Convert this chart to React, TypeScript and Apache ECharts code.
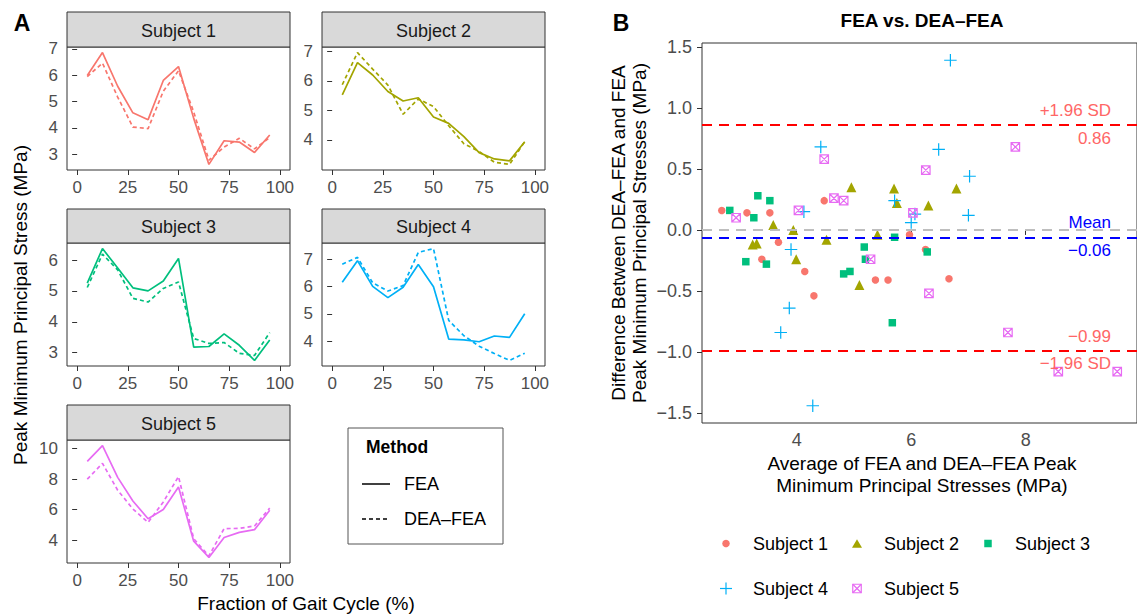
import React, { useEffect, useRef } from "react";
import * as echarts from "echarts";

const FONT = "Liberation Sans, Arial, Helvetica, sans-serif";

// Gait cycle fractions (%)
const timePoints = [5, 12.5, 20, 27.5, 35, 42.5, 50, 57.5, 65, 72.5, 80, 87.5, 95];
const gaitTicks = [0, 25, 50, 75, 100];
const subjects = ["Subject 1", "Subject 2", "Subject 3", "Subject 4", "Subject 5"];
const colors = ["#F8766D", "#A3A500", "#00BF7D", "#00B0F6", "#E76BF3"];

// Peak minimum principal stress (MPa)
const fea1 = [5.99, 6.86, 5.58, 4.57, 4.31, 5.8, 6.33, 4.36, 2.61, 3.51, 3.46, 3.06, 3.73];
const dea1 = [5.95, 6.46, 5.17, 4.03, 3.97, 5.39, 6.17, 4.6, 2.77, 3.27, 3.6, 3.2, 3.63];
const fea2 = [5.53, 6.62, 6.2, 5.64, 5.32, 5.43, 4.78, 4.56, 4.11, 3.57, 3.355, 3.29, 3.94];
const dea2 = [5.87, 6.96, 6.4, 5.86, 4.87, 5.39, 5.13, 4.48, 3.87, 3.61, 3.245, 3.17, 3.94];
const fea3 = [5.25, 6.37, 5.74, 5.1, 5.0, 5.32, 6.05, 3.18, 3.2, 3.61, 3.24, 2.75, 3.41];
const dea3 = [5.11, 6.19, 5.68, 4.76, 4.64, 5.08, 5.29, 3.46, 3.3, 3.33, 2.98, 2.91, 3.65];
const fea4 = [6.15, 6.94, 6.0, 5.59, 5.97, 6.8, 5.99, 4.08, 4.05, 3.98, 4.19, 4.14, 5.0];
const dea4 = [6.81, 7.06, 6.13, 5.83, 6.03, 7.24, 7.38, 4.76, 4.2, 3.82, 3.55, 3.3, 3.56];
const fea5 = [9.15, 10.18, 8.11, 6.57, 5.41, 6.01, 7.48, 3.95, 2.89, 4.19, 4.52, 4.7, 5.96];
const dea5 = [7.99, 9.02, 7.27, 6.05, 5.17, 6.5, 8.16, 4.11, 2.99, 4.77, 4.78, 4.94, 6.1];

const yTicks1 = [3, 4, 5, 6, 7];
const yTicks2 = [4, 5, 6, 7];
const yTicks3 = [3, 4, 5, 6];
const yTicks4 = [4, 5, 6, 7];
const yTicks5 = [4, 6, 8, 10];

// Bland-Altman summary values
const meanDiff = -0.06;
const upperLoA = 0.86;
const lowerLoA = -0.99;
const baXTicks = [4, 6, 8];
const baYTicks = [-1.5, -1, -0.5, 0, 0.5, 1, 1.5];

const feaAll = [fea1, fea2, fea3, fea4, fea5];
const deaAll = [dea1, dea2, dea3, dea4, dea5];
const yTicksAll = [yTicks1, yTicks2, yTicks3, yTicks4, yTicks5];

const facetPos = [
  { left: 67, top: 47, stripTop: 12 },
  { left: 322, top: 47, stripTop: 12 },
  { left: 67, top: 243, stripTop: 209 },
  { left: 322, top: 243, stripTop: 209 },
  { left: 67, top: 440, stripTop: 405 },
];
const FW = 223;
const FH = 123;

function expandRange(vals: number[]): [number, number] {
  const mn = Math.min(...vals);
  const mx = Math.max(...vals);
  const r = mx - mn;
  return [mn - 0.05 * r, mx + 0.05 * r];
}

const minus = (v: number, d: number) => (v < 0 ? "\u2212" : "") + Math.abs(v).toFixed(d);

const plusPath = "path://M6,0V12M0,6H12";
const crossSqPath = "path://M0,0H10V10H0ZM0,0L10,10M10,0L0,10";

function buildOption() {
  const grids: any[] = [];
  const xAxes: any[] = [];
  const yAxes: any[] = [];
  const series: any[] = [];
  const graphics: any[] = [];

  feaAll.forEach((fea, i) => {
    const dea = deaAll[i];
    const p = facetPos[i];
    grids.push({ left: p.left, top: p.top, width: FW, height: FH, show: true, borderColor: "#333", borderWidth: 1 });
    xAxes.push({
      type: "value", gridIndex: i, min: -5, max: 105,
      axisLine: { show: false }, splitLine: { show: false },
      axisTick: { show: true, length: 5, lineStyle: { color: "#333" }, customValues: gaitTicks },
      axisLabel: { customValues: gaitTicks, fontSize: 17, color: "#4d4d4d", margin: 9, fontFamily: FONT },
    });
    const [lo, hi] = expandRange([...fea, ...dea]);
    yAxes.push({
      type: "value", gridIndex: i, min: lo, max: hi,
      axisLine: { show: false }, splitLine: { show: false },
      axisTick: { show: true, length: 5, lineStyle: { color: "#333" }, customValues: yTicksAll[i] },
      axisLabel: { customValues: yTicksAll[i], fontSize: 17, color: "#4d4d4d", margin: 9, fontFamily: FONT },
    });
    series.push({
      type: "line", name: "FEA", xAxisIndex: i, yAxisIndex: i, silent: true, showSymbol: false,
      data: timePoints.map((t, j) => [t, fea[j]]),
      lineStyle: { color: colors[i], width: 1.7 },
    });
    series.push({
      type: "line", name: "DEA\u2013FEA", xAxisIndex: i, yAxisIndex: i, silent: true, showSymbol: false,
      data: timePoints.map((t, j) => [t, dea[j]]),
      lineStyle: { color: colors[i], width: 1.7, type: [4, 3] },
    });
    graphics.push({
      type: "rect", shape: { x: p.left, y: p.stripTop, width: FW, height: p.top - p.stripTop },
      style: { fill: "#d9d9d9", stroke: "#333", lineWidth: 1 }, z: 10,
    });
    graphics.push({
      type: "text", x: p.left + FW / 2, y: (p.stripTop + p.top) / 2 + 1, z: 11,
      style: { text: subjects[i], fontSize: 18, fontFamily: FONT, fill: "#1a1a1a", align: "center", verticalAlign: "middle", textAlign: "center", textVerticalAlign: "middle" },
    });
  });

  // Bland-Altman panel
  const baPoints = feaAll.map((fea, i) => timePoints.map((_, j) => [(fea[j] + deaAll[i][j]) / 2, deaAll[i][j] - fea[j]]));
  const allAvg = baPoints.flat().map((d) => d[0]);
  const allDiff = baPoints.flat().map((d) => d[1]);
  const [bxLo, bxHi] = expandRange(allAvg);
  const [byLo, byHi] = expandRange(allDiff);
  const B = 5;
  grids.push({ left: 702, top: 43, width: 441, height: 380, show: true, borderColor: "#333", borderWidth: 1 });
  xAxes.push({
    type: "value", gridIndex: B, min: bxLo, max: bxHi,
    axisLine: { show: false }, splitLine: { show: false },
    axisTick: { show: true, length: 5, lineStyle: { color: "#333" }, customValues: baXTicks },
    axisLabel: { customValues: baXTicks, fontSize: 18, color: "#4d4d4d", margin: 8, fontFamily: FONT },
  });
  yAxes.push({
    type: "value", gridIndex: B, min: byLo, max: byHi,
    axisLine: { show: false }, splitLine: { show: false },
    axisTick: { show: true, length: 5, lineStyle: { color: "#333" }, customValues: baYTicks },
    axisLabel: { customValues: baYTicks, fontSize: 18, color: "#4d4d4d", margin: 10, fontFamily: FONT, formatter: (v: number) => minus(v, 1) },
  });

  const lblBase = { show: true, fontSize: 17, fontFamily: FONT };
  const hidden = { color: "rgba(0,0,0,0)", width: 0 };
  series.push({
    type: "scatter", xAxisIndex: B, yAxisIndex: B, data: [], silent: true,
    markLine: {
      silent: true, symbol: ["none", "none"], animation: false,
      data: [
        { yAxis: 0, lineStyle: { color: "#BEBEBE", width: 2, type: [10, 7] }, label: { show: false } },
        { yAxis: upperLoA, lineStyle: { color: "#FF0000", width: 2, type: [10, 7] }, label: { ...lblBase, color: "#FF6666", position: "insideEndTop", distance: [26, 6], formatter: "+1.96 SD" } },
        { yAxis: upperLoA, lineStyle: hidden, label: { ...lblBase, color: "#FF6666", position: "insideEndBottom", distance: [26, 5], formatter: upperLoA.toFixed(2) } },
        { yAxis: meanDiff, lineStyle: { color: "#0000FF", width: 2, type: [10, 7] }, label: { ...lblBase, color: "#0000FF", position: "insideEndTop", distance: [26, 6], formatter: "Mean" } },
        { yAxis: meanDiff, lineStyle: hidden, label: { ...lblBase, color: "#0000FF", position: "insideEndBottom", distance: [26, 5], formatter: minus(meanDiff, 2) } },
        { yAxis: lowerLoA, lineStyle: { color: "#FF0000", width: 2, type: [10, 7] }, label: { ...lblBase, color: "#FF6666", position: "insideEndTop", distance: [26, 6], formatter: minus(lowerLoA, 2) } },
        { yAxis: lowerLoA, lineStyle: hidden, label: { ...lblBase, color: "#FF6666", position: "insideEndBottom", distance: [26, 4], formatter: "\u22121.96 SD" } },
      ],
    },
  });

  const symbols = ["circle", "triangle", "rect", plusPath, crossSqPath];
  const sizes = [7.5, 10, 7.5, 12.5, 8.5];
  baPoints.forEach((pts, i) => {
    const stroked = i >= 3;
    series.push({
      type: "scatter", name: subjects[i], xAxisIndex: B, yAxisIndex: B, silent: true,
      data: pts, symbol: symbols[i], symbolSize: sizes[i],
      itemStyle: stroked
        ? { color: "transparent", borderColor: colors[i], borderWidth: 1.2, opacity: 1 }
        : { color: colors[i], opacity: 1 },
    });
  });

  const txt = (text: string, x: number, y: number, extra: any = {}) => ({
    type: "text", x, y, z: 20, rotation: extra.rotation || 0,
    style: {
      text, fontSize: 19, fontFamily: FONT, fill: "#000",
      align: "center", verticalAlign: "middle", textAlign: "center", textVerticalAlign: "middle",
      ...extra.style,
    },
  });

  // Panel labels and titles
  graphics.push(txt("A", 22, 22.5, { style: { fontSize: 23, fontWeight: "bold" } }));
  graphics.push(txt("B", 621, 22.5, { style: { fontSize: 23, fontWeight: "bold" } }));
  graphics.push(txt("Peak Minimum Principal Stress (MPa)", 20, 305, { rotation: Math.PI / 2 }));
  graphics.push(txt("Fraction of Gait Cycle (%)", 306, 603));
  graphics.push(txt("FEA vs. DEA\u2013FEA", 922, 20, { style: { fontWeight: "bold" } }));
  graphics.push(txt("Difference Between DEA\u2013FEA and FEA\nPeak Minimum Principal Stresses (MPa)", 629, 233, { rotation: Math.PI / 2, style: { lineHeight: 21 } }));
  graphics.push(txt("Average of FEA and DEA\u2013FEA Peak\nMinimum Principal Stresses (MPa)", 922, 474, { style: { lineHeight: 22 } }));

  // Method legend
  graphics.push({ type: "rect", shape: { x: 348, y: 428, width: 155, height: 116 }, style: { fill: "#fff", stroke: "#555", lineWidth: 1 }, z: 15 });
  graphics.push(txt("Method", 366, 447, { style: { fontSize: 17.5, fontWeight: "bold", align: "left", textAlign: "left" } }));
  graphics.push({ type: "line", shape: { x1: 362, y1: 484, x2: 390, y2: 484 }, style: { stroke: "#000", lineWidth: 1.5 }, z: 20 });
  graphics.push(txt("FEA", 404, 484, { style: { fontSize: 18, align: "left", textAlign: "left" } }));
  graphics.push({ type: "line", shape: { x1: 362, y1: 519, x2: 390, y2: 519 }, style: { stroke: "#000", lineWidth: 1.5, lineDash: [4, 3] }, z: 20 });
  graphics.push(txt("DEA\u2013FEA", 404, 519, { style: { fontSize: 18, align: "left", textAlign: "left" } }));

  // Subject legend (panel B)
  const legX = [726, 857, 988, 726, 857];
  const legY = [543.5, 543.5, 543.5, 588.5, 588.5];
  subjects.forEach((s, i) => {
    const cx = legX[i];
    const cy = legY[i];
    const c = colors[i];
    if (i === 0) graphics.push({ type: "circle", shape: { cx, cy, r: 3.75 }, style: { fill: c }, z: 20 });
    if (i === 1) graphics.push({ type: "polygon", shape: { points: [[cx - 5, cy + 4.3], [cx + 5, cy + 4.3], [cx, cy - 4.3]] }, style: { fill: c }, z: 20 });
    if (i === 2) graphics.push({ type: "rect", shape: { x: cx - 3.75, y: cy - 3.75, width: 7.5, height: 7.5 }, style: { fill: c }, z: 20 });
    if (i === 3) {
      graphics.push({ type: "line", shape: { x1: cx - 6, y1: cy, x2: cx + 6, y2: cy }, style: { stroke: c, lineWidth: 1.2 }, z: 20 });
      graphics.push({ type: "line", shape: { x1: cx, y1: cy - 6, x2: cx, y2: cy + 6 }, style: { stroke: c, lineWidth: 1.2 }, z: 20 });
    }
    if (i === 4) {
      graphics.push({ type: "rect", shape: { x: cx - 4.25, y: cy - 4.25, width: 8.5, height: 8.5 }, style: { fill: "none", stroke: c, lineWidth: 1.2 }, z: 20 });
      graphics.push({ type: "line", shape: { x1: cx - 4.25, y1: cy - 4.25, x2: cx + 4.25, y2: cy + 4.25 }, style: { stroke: c, lineWidth: 1.2 }, z: 20 });
      graphics.push({ type: "line", shape: { x1: cx + 4.25, y1: cy - 4.25, x2: cx - 4.25, y2: cy + 4.25 }, style: { stroke: c, lineWidth: 1.2 }, z: 20 });
    }
    graphics.push(txt(s, cx + 27, cy, { style: { fontSize: 18, align: "left", textAlign: "left" } }));
  });

  return {
    animation: false,
    backgroundColor: "#ffffff",
    textStyle: { fontFamily: FONT },
    grid: grids,
    xAxis: xAxes,
    yAxis: yAxes,
    series,
    graphic: { elements: graphics },
  };
}

export default function App() {
  const ref = useRef<HTMLDivElement>(null);
  useEffect(() => {
    const chart = echarts.init(ref.current!, null, { renderer: "svg" });
    chart.setOption(buildOption() as any);
    return () => chart.dispose();
  }, []);
  return <div ref={ref} style={{ position: "absolute", left: 0, top: 0, width: 1137, height: 615 }} />;
}
